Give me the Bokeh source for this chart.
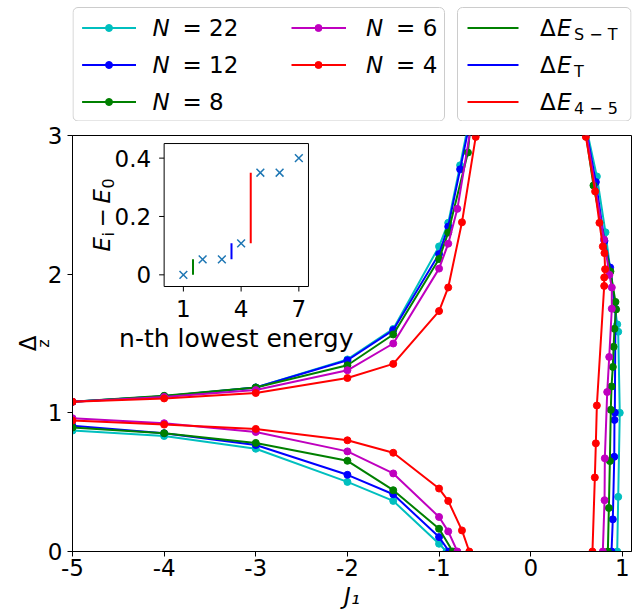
from math import pi
from bokeh.plotting import figure
from bokeh.models import Range1d, Label, FixedTicker, Title
from bokeh.layouts import column
from bokeh.core.properties import value
from bokeh.embed import file_html
from bokeh.resources import INLINE

FONT = "DejaVu Sans"
FS = 23

# ---------------- data ----------------
x_ticks = [-5, -4, -3, -2, -1, 0, 1]
x_tick_labels = ["-5", "-4", "-3", "-2", "-1", "0", "1"]
y_ticks = [0, 1, 2, 3]

n_labels = ["22", "12", "8", "6", "4"]
n_colors = ["#00bfbf", "#0000ff", "#008000", "#bf00bf", "#ff0000"]

n22_up_x = [-5, -4, -3, -2, -1.5, -1, -0.9, -0.77, -0.66]
n22_up_y = [1.08, 1.12, 1.183, 1.385, 1.605, 2.20, 2.37, 2.785, 3.15]
n22_lo_x = [-5, -4, -3, -2, -1.5, -1, -0.92]
n22_lo_y = [0.872, 0.833, 0.741, 0.502, 0.365, 0.056, 0.0]
n22_rt_x = [0.56, 0.722, 0.816, 0.944, 0.955, 0.972, 0.955, 0.944]
n22_rt_y = [3.2, 2.705, 2.302, 1.638, 1.585, 1.0, 0.394, 0.0]

n12_up_x = [-5, -4, -3, -2, -1.5, -1, -0.9, -0.77, -0.66]
n12_up_y = [1.08, 1.12, 1.183, 1.379, 1.597, 2.145, 2.343, 2.756, 3.11]
n12_lo_x = [-5, -4, -3, -2, -1.5, -1, -0.89]
n12_lo_y = [0.906, 0.853, 0.768, 0.553, 0.413, 0.104, 0.0]
n12_rt_x = [0.56, 0.711, 0.805, 0.867, 0.925, 0.918, 0.914, 0.912, 0.896, 0.882]
n12_rt_y = [3.2, 2.664, 2.24, 2.048, 1.75, 1.002, 0.949, 0.683, 0.232, 0.0]

n8_up_x = [-5, -4, -3, -2, -1.5, -1, -0.9, -0.685, -0.64]
n8_up_y = [1.08, 1.123, 1.183, 1.343, 1.565, 2.109, 2.30, 2.877, 3.2]
n8_lo_x = [-5, -4, -3, -2, -1.5, -1, -0.85]
n8_lo_y = [0.894, 0.853, 0.783, 0.654, 0.442, 0.164, 0.0]
n8_rt_x = [0.56, 0.685, 0.87, 0.925, 0.932, 0.914, 0.905, 0.896, 0.882, 0.874, 0.864, 0.853, 0.842]
n8_rt_y = [3.2, 2.64, 2.02, 1.80, 1.746, 1.606, 1.476, 1.331, 1.19, 1.022, 0.652, 0.314, 0.0]

n6_up_x = [-5, -4, -3, -2, -1.5, -1, -0.9, -0.8, -0.62]
n6_up_y = [1.08, 1.115, 1.164, 1.307, 1.50, 2.04, 2.22, 2.471, 3.19]
n6_lo_x = [-5, -4, -3, -2, -1.5, -1, -0.9, -0.8]
n6_lo_y = [0.961, 0.925, 0.862, 0.722, 0.563, 0.249, 0.145, 0.0]
n6_rt_x = [0.56, 0.80, 0.859, 0.885, 0.885, 0.857, 0.835, 0.809, 0.806, 0.787]
n6_rt_y = [3.2, 2.25, 1.995, 1.904, 1.751, 1.403, 1.15, 0.672, 0.37, 0.0]

n4_up_x = [-5, -4, -3, -2, -1.5, -1, -0.9, -0.75, -0.6]
n4_up_y = [1.08, 1.104, 1.143, 1.251, 1.353, 1.734, 1.904, 2.374, 2.99]
n4_lo_x = [-5, -4, -3, -2, -1.5, -1, -0.9, -0.75, -0.67]
n4_lo_y = [0.944, 0.915, 0.884, 0.802, 0.712, 0.454, 0.365, 0.152, 0.0]
n4_rt_x = [0.57, 0.602, 0.703, 0.750, 0.787, 0.805, 0.812, 0.802, 0.802, 0.722, 0.711, 0.700, 0.674]
n4_rt_y = [3.12, 2.99, 2.597, 2.370, 2.20, 2.152, 2.036, 1.976, 1.915, 1.053, 0.78, 0.534, 0.0]

# inset
levels = [1, 2, 3, 4, 5, 6, 7]
energies = [0.0, 0.053, 0.053, 0.108, 0.35, 0.35, 0.40]
gap_x = [1.5, 3.5, 4.5]
gap_lo = [0.0, 0.053, 0.108]
gap_hi = [0.053, 0.108, 0.35]
gap_colors = ["#008000", "#0000ff", "#ff0000"]
gap_subs = ["S − T", "T", "4 − 5"]
inset_xticks = [1, 4, 7]
inset_xtick_labels = ["1", "4", "7"]
inset_yticks = [0, 0.2, 0.4]
inset_ytick_labels = ["0", "0.2", "0.4"]

series = [
    (n22_up_x, n22_up_y, n22_lo_x, n22_lo_y, n22_rt_x, n22_rt_y),
    (n12_up_x, n12_up_y, n12_lo_x, n12_lo_y, n12_rt_x, n12_rt_y),
    (n8_up_x, n8_up_y, n8_lo_x, n8_lo_y, n8_rt_x, n8_rt_y),
    (n6_up_x, n6_up_y, n6_lo_x, n6_lo_y, n6_rt_x, n6_rt_y),
    (n4_up_x, n4_up_y, n4_lo_x, n4_lo_y, n4_rt_x, n4_rt_y),
]

# ---------------- layout constants (page px) ----------------
W = 638
LEG_H = 121
MAIN_H = 616 - LEG_H
FRAME_L = 72
FRAME_R = 631
FRAME_T = 135
FRAME_B = 551

# ---------------- main figure ----------------
p = figure(width=W, height=MAIN_H, x_range=Range1d(-5, 1.1), y_range=Range1d(0, 3),
           output_backend="svg", toolbar_location=None, title=None,
           min_border_left=FRAME_L, min_border_right=W - FRAME_R,
           min_border_top=FRAME_T - LEG_H, min_border_bottom=616 - FRAME_B)
p.xgrid.visible = False
p.ygrid.visible = False
p.outline_line_color = "black"
p.outline_line_width = 1
p.background_fill_color = "white"
p.border_fill_color = "white"
for ax in (p.xaxis[0], p.yaxis[0]):
    ax.major_label_text_font = FONT
    ax.major_label_text_font_size = f"{FS}px"
    ax.major_label_text_color = "black"
    ax.major_tick_out = 5
    ax.major_tick_in = 0
    ax.minor_tick_out = 0
    ax.minor_tick_in = 0
    ax.axis_line_color = "black"
    ax.major_tick_line_color = "black"
p.xaxis.ticker = FixedTicker(ticks=x_ticks)
p.xaxis.major_label_overrides = {t: s for t, s in zip(x_ticks, x_tick_labels)}
p.yaxis.ticker = FixedTicker(ticks=y_ticks)
p.xaxis.major_label_standoff = 2
p.yaxis.major_label_standoff = 5

p.xaxis.axis_label = "J₁"
p.xaxis.axis_label_text_font = FONT
p.xaxis.axis_label_text_font_size = f"{FS}px"
p.xaxis.axis_label_text_font_style = "italic"
p.xaxis.axis_label_text_color = "black"
p.xaxis.axis_label_standoff = 4

# y label  Δ_z : subscript z (inner) and Δ (outer) as side titles
p.add_layout(Title(text="z", text_font=FONT, text_font_size="16px", text_font_style="normal",
                   text_color="black", align="center", vertical_align="bottom",
                   offset=2, standoff=-17), "left")
p.add_layout(Title(text="Δ", text_font=FONT, text_font_size=f"{FS}px", text_font_style="normal",
                   text_color="black", align="center", vertical_align="bottom",
                   offset=-17, standoff=0), "left")

for (ux, uy, lx, ly, rx, ry), col in zip(series, n_colors):
    for xs, ys in ((ux, uy), (lx, ly), (rx, ry)):
        p.line(xs, ys, line_color=col, line_width=2)
        p.scatter(xs, ys, size=7, fill_color=col, line_color=col)


def flab(fig, text, ix, iy, size=FS, italic=False, angle=0.0, align="left", baseline="middle"):
    fig.add_layout(Label(x=ix - FRAME_L, y=FRAME_B - iy, x_units="screen", y_units="screen",
                         text=text, text_font=FONT, text_font_size=f"{size}px",
                         text_font_style="italic" if italic else "normal",
                         text_align=align, text_baseline=baseline, angle=angle,
                         text_color="black"))


# ---------------- inset ----------------
ins_x = Range1d(0, 7.5)
ins_y = Range1d(-0.04, 0.45)
sub = p.subplot(x_source=ins_x, y_source=ins_y,
                x_target=Range1d(-4.0, -2.425), y_target=Range1d(1.911, 2.942))
sub.quad(left=[ins_x.start], right=[ins_x.end], bottom=[ins_y.start], top=[ins_y.end],
         fill_color="white", line_color="black", line_width=1)
sub.segment(x0=gap_x, y0=gap_lo, x1=gap_x, y1=gap_hi, line_color=gap_colors, line_width=2)
sub.scatter(levels, energies, marker="x", size=11, line_color="#1f77b4", line_width=1.5)
sub.ray(x=inset_xticks, y=[ins_y.start] * len(inset_xticks), length=5, length_units="screen",
        angle=-pi / 2, line_color="black", line_width=1)
sub.ray(x=[ins_x.start] * len(inset_yticks), y=inset_yticks, length=5, length_units="screen",
        angle=pi, line_color="black", line_width=1)
sub.text(x=inset_xticks, y=[ins_y.start] * len(inset_xticks), text=inset_xtick_labels,
         text_align="center", text_baseline="middle", y_offset=21.5,
         text_font=value(FONT), text_font_size=f"{FS}px", text_color="black")
sub.text(x=[ins_x.start] * len(inset_yticks), y=inset_yticks, text=inset_ytick_labels,
         text_align="right", text_baseline="middle", x_offset=-13,
         text_font=value(FONT), text_font_size=f"{FS}px", text_color="black")
sub.text(x=[(ins_x.start + ins_x.end) / 2], y=[ins_y.start], text=["n-th lowest energy"],
         text_align="center", text_baseline="middle", y_offset=52,
         text_font=value(FONT), text_font_size="25px", text_color="black")

# inset y label  E_i − E_0 (rotated)
flab(p, "E", 101, 251, italic=True, angle=pi / 2)
flab(p, "i", 107.5, 236, size=16, angle=pi / 2)
flab(p, "−", 101, 227, angle=pi / 2)
flab(p, "E", 101, 203, italic=True, angle=pi / 2)
flab(p, "0", 107.5, 188, size=16, angle=pi / 2)

# ---------------- legend figure ----------------
leg = figure(width=W, height=LEG_H, x_range=Range1d(FRAME_L, FRAME_R), y_range=Range1d(LEG_H, 0),
             output_backend="svg", toolbar_location=None, title=None,
             min_border_left=FRAME_L, min_border_right=W - FRAME_R, min_border_top=0, min_border_bottom=0,
             x_axis_type=None, y_axis_type=None)
leg.outline_line_color = None
leg.grid.visible = False
leg.quad(left=[72.5, 457], right=[444, 630.5], top=[7, 7], bottom=[120.5, 120.5],
         fill_color="white", line_color="#cccccc", line_width=1, border_radius=5)

rows = [27.5, 64.5, 101.5]
slots = [(0, 0), (0, 1), (0, 2), (1, 0), (1, 1)]
col_key = [(81.6, 135.5, 108.5, 152.0), (291.0, 345.5, 318.0, 365.6)]
for lab, colr, (c, r) in zip(n_labels, n_colors, slots):
    k0, k1, km, tx = col_key[c]
    yy = rows[r]
    leg.line([k0, k1], [yy, yy], line_color=colr, line_width=2)
    leg.scatter([km], [yy], size=7, fill_color=colr, line_color=colr)
    leg.text(x=[tx], y=[yy], text=["N"], text_font=value(FONT), text_font_size=f"{FS}px",
             text_font_style="italic", text_baseline="middle", text_color="black")
    leg.text(x=[tx + 30], y=[yy], text=["= " + lab], text_font=value(FONT),
             text_font_size=f"{FS}px", text_baseline="middle", text_color="black")

for sb, colr, yy in zip(gap_subs, gap_colors, rows):
    leg.line([467, 518], [yy, yy], line_color=colr, line_width=2)
    leg.text(x=[539.5], y=[yy], text=["Δ"], text_font=value(FONT), text_font_size=f"{FS}px",
             text_baseline="middle", text_color="black")
    leg.text(x=[556.5], y=[yy], text=["E"], text_font=value(FONT), text_font_size=f"{FS}px",
             text_font_style="italic", text_baseline="middle", text_color="black")
    leg.text(x=[573.5], y=[yy + 6.6], text=[sb], text_font=value(FONT), text_font_size="16px",
             text_baseline="middle", text_color="black")

layout = column(leg, p)
open("out.html", "w").write(file_html(layout, INLINE))
